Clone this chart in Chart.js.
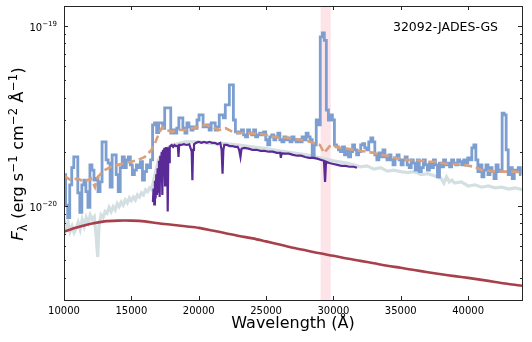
<!DOCTYPE html>
<html>
<head>
<meta charset="utf-8">
<script src="https://cdn.jsdelivr.net/npm/chart.js@4.4.0/dist/chart.umd.min.js"></script>
<style>
  html, body { margin: 0; padding: 0; background: #fff; }
  #wrap { width: 532px; height: 342px; }
</style>
</head>
<body>
<div id="wrap"><canvas id="spec" width="532" height="342"></canvas></div>
<script>
// --- Data (flux in units of 1e-20 erg s^-1 cm^-2 A^-1) ---
const objectName = "32092-JADES-GS";
const xTicks = [10000, 15000, 20000, 25000, 30000, 35000, 40000];
const yTicks = [1, 10];
const yTickExp = ["−20", "−19"];
const yMinorTicks = [0.3, 0.4, 0.5, 0.6, 0.7, 0.8, 0.9, 2, 3, 4, 5, 6, 7, 8, 9];
const bandRange = [29050, 29800];

// binned prism spectrum (bin centres)
const prismWave = [10050,10200,10350,10500,10650,10800,10950,11100,11250,11400,11550,11700,11850,12000,12150,12300,12450,12600,12750,12900,
  13050,13200,13350,13500,13650,13800,13950,14100,14250,14400,14550,14700,14850,15000,15150,15300,15450,15600,15750,15900,
  16050,16200,16350,16500,16650,16800,16950,17100,17250,17400,17550,17700,17850,18000,18150,18300,18450,18600,18750,18900,
  19050,19200,19350,19500,19650,19800,19950,20100,20250,20400,20550,20700,20850,21000,21150,21300,21450,21600,21750,21900,
  22050,22200,22350,22500,22650,22800,22950,23100,23250,23400,23550,23700,23850,24000,24150,24300,24450,24600,24750,24900,
  25050,25200,25350,25500,25650,25800,25950,26100,26250,26400,26550,26700,26850,27000,27150,27300,27450,27600,27750,27900,
  28050,28200,28350,28500,28650,28800,28950,29100,29250,29400,29550,29700,29850,30000,30150,30300,30450,30600,30750,30900,
  31050,31200,31350,31500,31650,31800,31950,32100,32250,32400,32550,32700,32850,33000,33150,33300,33450,33600,33750,33900,
  34050,34200,34350,34500,34650,34800,34950,35100,35250,35400,35550,35700,35850,36000,36150,36300,36450,36600,36750,36900,
  37050,37200,37350,37500,37650,37800,37950,38100,38250,38400,38550,38700,38850,39000,39150,39300,39450,39600,39750,39900,
  40050,40200,40350,40500,40650,40800,40950,41100,41250,41400,41550,41700,41850,42000,42150,42300,42450,42600,42750,42900,
  43050,43200,43350,43500,43650,43800,43950];
const prismFlux = [1.49,1.01,0.86,1.31,1.63,1.87,1.87,1.18,0.92,1.31,1.39,1.20,0.98,1.69,1.58,1.39,1.42,1.20,1.36,2.27,
  2.27,1.80,1.73,1.27,1.92,1.92,1.49,1.20,1.63,1.87,1.63,1.80,1.87,1.69,1.49,1.58,1.69,1.63,1.76,1.39,
  1.55,1.69,1.63,1.80,2.82,2.89,2.55,2.89,2.89,2.70,3.50,3.50,3.50,2.54,2.64,2.54,2.70,3.08,3.08,2.70,
  2.54,2.89,2.75,2.64,2.75,2.70,3.00,3.20,3.20,2.75,2.75,2.82,2.64,2.89,2.89,2.64,2.75,3.20,3.20,3.08,
  3.64,3.64,4.70,4.70,3.00,2.58,2.54,2.58,2.64,2.48,2.42,2.64,2.54,2.48,2.64,2.42,2.48,2.54,2.48,2.58,
  2.33,2.18,2.42,2.48,2.33,2.42,2.54,2.33,2.27,2.42,2.33,2.39,2.27,2.42,2.33,2.27,2.33,2.27,2.42,2.33,
  2.54,2.42,2.33,1.87,2.18,3.00,2.82,8.70,9.15,8.30,3.41,3.00,3.20,3.00,2.18,2.13,2.05,2.00,2.13,1.92,
  2.05,1.87,2.00,2.18,2.05,1.92,2.00,2.18,2.22,2.10,2.05,2.27,2.39,2.27,1.92,1.80,1.97,1.87,2.05,1.87,
  1.80,1.92,1.80,1.69,1.85,1.92,1.80,1.69,1.80,1.87,1.69,1.63,1.80,1.73,1.58,1.80,1.55,1.63,1.80,1.69,
  1.58,1.73,1.63,1.80,1.69,1.45,1.73,1.65,1.80,1.69,1.73,1.65,1.80,1.73,1.69,1.80,1.76,1.69,1.80,1.73,
  1.85,1.80,2.10,2.18,1.80,1.55,1.69,1.45,1.58,1.69,1.49,1.63,1.55,1.42,1.69,1.55,1.58,3.28,3.20,2.05,
  1.49,1.63,1.42,1.58,1.55,1.63,1.49];

// model fit (dashed)
const modelWave = [10000,10500,11000,11500,12000,12300,12500,13000,13500,14000,14500,15000,15500,16000,16500,16800,17000,17300,17600,18000,
  18500,19000,19500,20000,20500,21000,21500,22000,22500,23000,23500,24000,24500,25000,25500,26000,26500,27000,27500,28000,
  28500,29000,29300,29500,29800,30000,30500,31000,31500,32000,32500,33000,33500,34000,34500,35000,35500,36000,36500,37000,
  37500,38000,38500,39000,39500,40000,40500,41000,41500,42000,42500,43000,43500,44000];
const modelFlux = [1.47,1.39,1.42,1.36,1.42,1.27,1.45,1.58,1.65,1.69,1.73,1.76,1.80,1.87,2.05,2.27,2.48,2.75,2.64,2.58,
  2.64,2.64,2.70,2.75,2.82,2.75,2.64,2.70,2.58,2.54,2.54,2.52,2.52,2.48,2.42,2.39,2.39,2.36,2.33,2.30,
  2.24,2.18,1.97,2.05,2.18,2.16,2.10,2.08,2.05,2.02,2.00,1.97,1.92,1.90,1.85,1.83,1.80,1.80,1.78,1.76,
  1.76,1.73,1.71,1.71,1.69,1.67,1.65,1.58,1.57,1.55,1.55,1.55,1.55,1.53];

// full-resolution spectrum (light grey)
const fullWave = [10000,10150,10300,10450,10600,10750,10900,11050,11200,11350,11500,11650,11800,11950,12100,12250,12400,12500,12600,12750,
  12900,13050,13200,13350,13500,13650,13800,13950,14100,14250,14400,14550,14700,14850,15000,15150,15300,15450,15600,15750,
  15900,16050,16200,16350,16500,17000,17500,18000,18500,19000,20000,21000,22000,23000,24000,25000,26000,27000,28000,29000,
  30000,31000,31500,32000,32500,33000,33500,34000,34500,35000,35500,36000,36500,37000,37500,38000,38200,38400,38600,38800,
  39000,39500,40000,40500,41000,41500,42000,42500,43000,43500,44000];
const fullFlux = [0.86,0.75,0.81,0.72,0.77,0.71,0.75,0.81,0.74,0.84,0.77,0.86,0.81,0.89,0.84,0.87,0.66,0.52,0.78,0.89,
  0.86,0.93,0.91,0.98,0.93,0.99,0.95,1.03,0.99,1.05,1.01,1.08,1.04,1.11,1.07,1.12,1.08,1.15,1.12,1.18,
  1.15,1.23,1.20,1.26,1.23,1.80,2.05,2.18,2.22,2.27,2.27,2.22,2.22,2.18,2.13,2.08,2.02,1.97,1.92,1.85,
  1.78,1.73,1.69,1.65,1.67,1.60,1.63,1.56,1.58,1.55,1.53,1.55,1.49,1.51,1.47,1.42,1.34,1.45,1.36,1.39,
  1.34,1.36,1.29,1.31,1.27,1.29,1.26,1.27,1.24,1.26,1.23];

// grating spectrum (purple)
const gratingWave = [16600,16650,16700,16750,16800,16850,16900,16950,17000,17050,17100,17150,17200,17250,17300,17350,17400,17450,17500,17550,
  17600,17650,17700,17750,17800,17850,17900,18000,18100,18200,18300,18450,18500,18550,
  18700,18900,19100,19300,19480,19530,19580,19650,19800,20000,20200,20400,20600,20800,21000,21200,21400,21600,21700,21770,
  21830,21900,22100,22300,22500,22700,22900,23000,23100,23180,23400,23700,24000,24300,24600,24900,25200,25500,25800,26050,
  26100,26150,26400,26700,27000,27300,27600,27900,28200,28500,28800,29100,29300,29380,29450,29700,30000,30300,30600,30900,
  31200,31500,31750];
const gratingFlux = [1.05,1.25,1.02,1.38,1.10,1.50,1.15,1.62,1.20,1.78,1.12,1.90,1.40,2.00,1.15,2.05,1.55,2.10,1.30,2.12,
  1.60,2.12,0.93,2.12,1.75,2.13,2.15,2.18,2.13,2.18,2.15,2.16,1.87,2.18,
  2.18,2.20,2.18,2.20,2.00,1.39,2.05,2.20,2.24,2.27,2.24,2.27,2.24,2.27,2.24,2.24,2.20,2.24,2.05,1.51,
  2.05,2.18,2.18,2.15,2.15,2.13,2.13,2.05,1.87,2.08,2.10,2.08,2.05,2.05,2.02,2.02,2.00,2.00,1.97,1.97,
  1.85,1.96,1.95,1.95,1.92,1.90,1.90,1.87,1.85,1.85,1.83,1.80,1.78,1.36,1.76,1.73,1.71,1.69,1.67,1.67,
  1.65,1.65,1.63];

// smooth component (dark red)
const compWave = [10000,11000,12000,13000,14000,15000,16000,17000,18000,19000,20000,21000,22000,23000,24000,25000,26000,27000,28000,29000,
  30000,31000,32000,33000,34000,35000,36000,37000,38000,39000,40000,41000,42000,43000,44000];
const compFlux = [0.72,0.76,0.795,0.82,0.828,0.828,0.82,0.80,0.785,0.77,0.755,0.73,0.705,0.68,0.66,0.635,0.61,0.585,0.565,0.545,
  0.528,0.51,0.495,0.48,0.465,0.453,0.44,0.428,0.417,0.407,0.398,0.388,0.378,0.368,0.36];

const toPoints = (xs, ys) => xs.map((x, i) => ({ x: x, y: ys[i] }));

// draw a run of [text, font, dy, gap] pieces starting at x
function drawPieces(ctx, pieces, x, y) {
  pieces.forEach(p => {
    ctx.font = p[1];
    ctx.fillText(p[0], x, y + p[2]);
    x += ctx.measureText(p[0]).width + (p[3] || 0);
  });
}
function piecesWidth(ctx, pieces) {
  let w = 0;
  pieces.forEach(p => { ctx.font = p[1]; w += ctx.measureText(p[0]).width + (p[3] || 0); });
  return w;
}

// --- Decorations: shaded band, frame, inward ticks, labels ---
const decor = {
  id: 'decor',
  beforeDatasetsDraw(chart) {
    const { ctx, chartArea: a, scales: { x } } = chart;
    const x0 = x.getPixelForValue(bandRange[0]);
    const x1 = x.getPixelForValue(bandRange[1]);
    ctx.save();
    ctx.fillStyle = '#fde4e9';
    ctx.fillRect(x0, a.top, x1 - x0, a.bottom - a.top);
    ctx.restore();
  },
  afterDraw(chart) {
    const { ctx, chartArea: a, scales: { x, y } } = chart;
    ctx.save();
    ctx.strokeStyle = '#262626';
    ctx.lineWidth = 1;
    ctx.strokeRect(a.left + 0.5, a.top + 0.5, a.right - a.left, a.bottom - a.top);

    ctx.beginPath();
    xTicks.forEach(v => {
      const px = Math.round(x.getPixelForValue(v)) + 0.5;
      ctx.moveTo(px, a.bottom); ctx.lineTo(px, a.bottom - 4);
      ctx.moveTo(px, a.top); ctx.lineTo(px, a.top + 4);
    });
    yTicks.forEach(v => {
      const py = Math.round(y.getPixelForValue(v)) + 0.5;
      ctx.moveTo(a.left, py); ctx.lineTo(a.left + 4, py);
      ctx.moveTo(a.right, py); ctx.lineTo(a.right - 4, py);
    });
    yMinorTicks.forEach(v => {
      const py = Math.round(y.getPixelForValue(v)) + 0.5;
      ctx.moveTo(a.left, py); ctx.lineTo(a.left + 2, py);
      ctx.moveTo(a.right, py); ctx.lineTo(a.right - 2, py);
    });
    ctx.stroke();

    ctx.fillStyle = '#000';
    ctx.textBaseline = 'alphabetic';
    ctx.textAlign = 'left';

    // y tick labels: 10 with superscript exponent
    yTicks.forEach((v, i) => {
      const py = y.getPixelForValue(v);
      const pieces = [['10', '10px "DejaVu Sans"', 0], [yTickExp[i], '7px "DejaVu Sans"', -4.5]];
      const w = piecesWidth(ctx, pieces);
      drawPieces(ctx, pieces, a.left - 7 - w, py + 5);
    });

    // object name
    ctx.font = '12.5px "DejaVu Sans"';
    ctx.textAlign = 'right';
    ctx.fillText(objectName, 498, 31);

    // x title
    ctx.font = '16px "DejaVu Sans"';
    ctx.textAlign = 'center';
    ctx.fillText('Wavelength (Å)', (a.left + a.right) / 2, 328);

    // y title
    const main = '16px "DejaVu Sans"';
    const small = '11.5px "DejaVu Sans"';
    const yTitle = [
      ['F', 'italic 16.5px "DejaVu Sans"', 0], ['λ', small, 3.5, 0.5],
      [' (erg s', main, 0, 0.5], ['−1', small, -6.5, 0.5],
      [' cm', main, 0, 0.5], ['−2', small, -6.5, 0.5],
      [' Å', main, 0, 0.5], ['−1', small, -6.5, 0.5], [')', main, 0]
    ];
    ctx.textAlign = 'left';
    const total = piecesWidth(ctx, yTitle);
    ctx.translate(23, 154);
    ctx.rotate(-Math.PI / 2);
    drawPieces(ctx, yTitle, -total / 2, 0);
    ctx.restore();
  }
};

new Chart(document.getElementById('spec').getContext('2d'), {
  type: 'line',
  data: {
    datasets: [
      { label: 'smooth', data: toPoints(compWave, compFlux), borderColor: '#a8404c', borderWidth: 2.6,
        pointRadius: 0, tension: 0.3, order: 0 },
      { label: 'model', data: toPoints(modelWave, modelFlux), borderColor: '#d9a07c', borderWidth: 2.6,
        borderDash: [8, 4], pointRadius: 0, tension: 0, order: 1 },
      { label: 'grating', data: toPoints(gratingWave, gratingFlux), borderColor: '#5a2b97', borderWidth: 2.2,
        pointRadius: 0, tension: 0, order: 2 },
      { label: 'prism', data: toPoints(prismWave, prismFlux), borderColor: '#7c9ed0', borderWidth: 2.8,
        stepped: 'middle', pointRadius: 0, order: 3 },
      { label: 'full', data: toPoints(fullWave, fullFlux), borderColor: '#d4dfe1', borderWidth: 3.2,
        pointRadius: 0, tension: 0, order: 4 }
    ]
  },
  options: {
    responsive: false,
    animation: false,
    events: [],
    layout: { padding: { left: 0, right: 10, top: 6, bottom: 0 } },
    plugins: { legend: { display: false }, tooltip: { enabled: false } },
    scales: {
      x: {
        type: 'linear', min: 10000, max: 44000,
        grid: { display: false, drawTicks: false },
        border: { display: false },
        afterBuildTicks: s => { s.ticks = xTicks.map(v => ({ value: v })); },
        afterFit: s => { s.height = 42; },
        ticks: { color: '#000', font: { family: 'DejaVu Sans', size: 10 }, padding: 5, maxRotation: 0,
          callback: v => String(v) }
      },
      y: {
        type: 'logarithmic', min: 0.30, max: 12.9,
        grid: { display: false, drawTicks: false },
        border: { display: false },
        afterBuildTicks: s => { s.ticks = yTicks.map(v => ({ value: v })); },
        afterFit: s => { s.width = 64; },
        ticks: { display: false }
      }
    }
  },
  plugins: [decor]
});
</script>
</body>
</html>
